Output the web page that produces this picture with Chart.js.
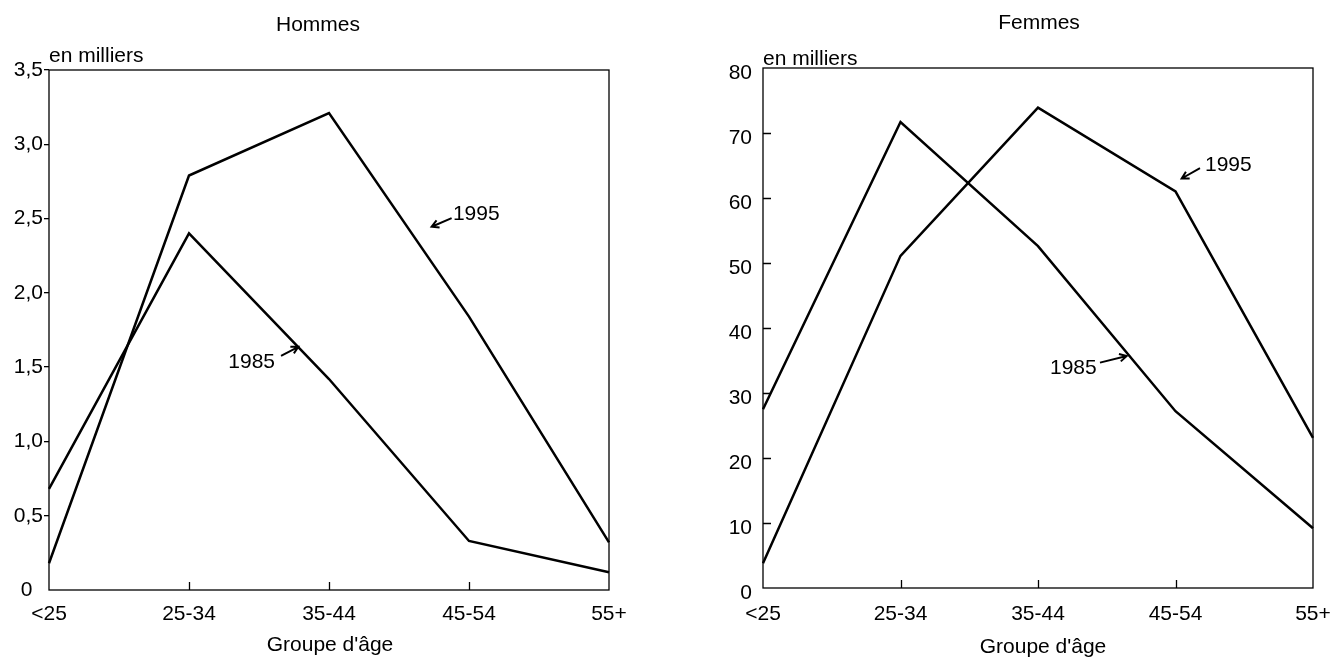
<!DOCTYPE html>
<html lang="fr">
  <head>
    <meta charset="UTF-8" />
    <script src="https://cdn.jsdelivr.net/npm/chart.js@4.4.1/dist/chart.umd.min.js"></script>
    <style>
      html, body { margin: 0; padding: 0; background: #fff; }
      .panel { position: absolute; top: 0; height: 658px; }
      #left { left: 0; width: 666px; }
      #right { left: 666px; width: 667px; }
    </style>
  </head>
  <body>
    <div class="panel" id="left"><canvas id="hommesChart"></canvas></div>
    <div class="panel" id="right"><canvas id="femmesChart"></canvas></div>

    <script>
      // data (en milliers)
      const ageGroups = ["<25", "25-34", "35-44", "45-54", "55+"];
      const hommes1985 = [0.68, 2.4, 1.42, 0.33, 0.12];
      const hommes1995 = [0.18, 2.79, 3.21, 1.84, 0.32];
      const femmes1985 = [27.5, 71.7, 52.6, 27.2, 9.2];
      const femmes1995 = [3.8, 51.1, 73.9, 61.0, 23.1];
      const hommesTickLabels = ["0\u2002", "0,5", "1,0", "1,5", "2,0", "2,5", "3,0", "3,5"];
      const femmesTickLabels = ["0", "10", "20", "30", "40", "50", "60", "70", "80"];

      const FONT = "'Liberation Sans', Arial, sans-serif";
      Chart.defaults.font.family = FONT;
      Chart.defaults.font.size = 21;
      Chart.defaults.color = "#000";

      // box, inward tick marks, titles and the little arrow notes
      function framePlugin(cfg) {
        return {
          id: "frame",
          afterDraw(chart) {
            const { ctx, chartArea: a, scales } = chart;
            ctx.save();
            ctx.strokeStyle = "#000";
            ctx.lineWidth = 1.3;
            ctx.strokeRect(a.left, a.top, a.right - a.left, a.bottom - a.top);

            ctx.beginPath();
            const nx = scales.x.ticks.length;
            for (let i = 1; i < nx - 1; i++) {
              const px = Math.round(scales.x.getPixelForTick(i)) + 0.5;
              ctx.moveTo(px, a.bottom);
              ctx.lineTo(px, a.bottom - 8);
            }
            if (cfg.innerYTicks) {
              const ny = scales.y.ticks.length;
              for (let i = 1; i < ny - 1; i++) {
                const py = Math.round(scales.y.getPixelForTick(i)) + 0.5;
                ctx.moveTo(a.left, py);
                ctx.lineTo(a.left + 8, py);
              }
            }
            ctx.stroke();

            ctx.fillStyle = "#000";
            ctx.font = "21px " + FONT;
            ctx.textAlign = "center";
            ctx.textBaseline = "middle";
            ctx.fillText(cfg.title, cfg.titlePos[0], cfg.titlePos[1]);
            ctx.fillText("Groupe d'âge", cfg.xTitlePos[0], cfg.xTitlePos[1]);
            ctx.textAlign = "left";
            ctx.textBaseline = "alphabetic";
            ctx.fillText("en milliers", a.left, cfg.unitBaseline);

            cfg.notes.forEach((n) => {
              const tx = scales.x.getPixelForValue(n.at[0]);
              const ty = scales.y.getPixelForValue(n.at[1]);
              const sx = tx + n.tail[0];
              const sy = ty + n.tail[1];
              const ang = Math.atan2(ty - sy, tx - sx);
              ctx.lineWidth = 2;
              ctx.beginPath();
              ctx.moveTo(sx, sy);
              ctx.lineTo(tx, ty);
              ctx.moveTo(tx - 8 * Math.cos(ang - 0.5), ty - 8 * Math.sin(ang - 0.5));
              ctx.lineTo(tx, ty);
              ctx.lineTo(tx - 8 * Math.cos(ang + 0.5), ty - 8 * Math.sin(ang + 0.5));
              ctx.stroke();
              ctx.textAlign = n.align;
              ctx.textBaseline = "middle";
              ctx.fillText(n.text, tx + n.label[0], ty + n.label[1]);
            });
            ctx.restore();
          },
        };
      }

      function lineSet(label, values) {
        return {
          label: label,
          data: values,
          borderColor: "#000",
          borderWidth: 2.5,
          pointRadius: 0,
          tension: 0,
          clip: 4,
        };
      }

      function xScale(height, pad) {
        return {
          type: "category",
          offset: false,
          grid: { display: false, drawTicks: false },
          border: { display: false },
          ticks: { padding: pad, maxRotation: 0, autoSkip: false },
          afterFit: (s) => {
            s.height = height;
            s.paddingLeft = 0;
            s.paddingRight = 0;
          },
        };
      }

      // Hommes
      new Chart(document.getElementById("hommesChart"), {
        type: "line",
        data: {
          labels: ageGroups,
          datasets: [lineSet("1985", hommes1985), lineSet("1995", hommes1995)],
        },
        options: {
          responsive: true,
          maintainAspectRatio: false,
          animation: false,
          layout: { padding: { top: 70, right: 57, left: 0, bottom: 0 } },
          plugins: { legend: { display: false }, tooltip: { enabled: false } },
          scales: {
            x: xScale(68, 12),
            y: {
              min: 0,
              max: 3.5,
              ticks: {
                stepSize: 0.5,
                padding: 1,
                callback: (v, i) => hommesTickLabels[i],
              },
              grid: {
                drawOnChartArea: false,
                drawTicks: true,
                tickLength: 5,
                lineWidth: 1.3,
                color: (c) => (c.tick && c.tick.value === 0 ? "rgba(0,0,0,0)" : "#000"),
              },
              border: { display: false },
              afterFit: (s) => {
                s.width = 49;
                s.paddingTop = 0;
                s.paddingBottom = 0;
              },
            },
          },
        },
        plugins: [
          framePlugin({
            title: "Hommes",
            titlePos: [318, 25],
            xTitlePos: [330, 645],
            unitBaseline: 62,
            innerYTicks: false,
            notes: [
              { text: "1995", at: [2.733, 2.445], tail: [20, -8.7], label: [21.3, -12.7], align: "left" },
              { text: "1985", at: [1.781, 1.637], tail: [-17.3, 9], label: [-23.3, 15.3], align: "right" },
            ],
          }),
        ],
      });

      // Femmes
      new Chart(document.getElementById("femmesChart"), {
        type: "line",
        data: {
          labels: ageGroups,
          datasets: [lineSet("1985", femmes1985), lineSet("1995", femmes1995)],
        },
        options: {
          responsive: true,
          maintainAspectRatio: false,
          animation: false,
          layout: { padding: { top: 68, right: 20, left: 0, bottom: 0 } },
          plugins: { legend: { display: false }, tooltip: { enabled: false } },
          scales: {
            x: xScale(70, 14),
            y: {
              min: 0,
              max: 80,
              ticks: {
                stepSize: 10,
                padding: 11,
                labelOffset: 5,
                callback: (v, i) => femmesTickLabels[i],
              },
              grid: { display: false, drawTicks: false },
              border: { display: false },
              afterFit: (s) => {
                s.width = 97;
                s.paddingTop = 0;
                s.paddingBottom = 0;
              },
            },
          },
        },
        plugins: [
          framePlugin({
            title: "Femmes",
            titlePos: [373, 23],
            xTitlePos: [377, 647],
            unitBaseline: 65,
            innerYTicks: true,
            notes: [
              { text: "1995", at: [3.045, 63.0], tail: [18.3, -10.3], label: [23.3, -13.3], align: "left" },
              { text: "1985", at: [2.645, 35.7], tail: [-26.7, 6.7], label: [-30, 12], align: "right" },
            ],
          }),
        ],
      });
    </script>
  </body>
</html>
